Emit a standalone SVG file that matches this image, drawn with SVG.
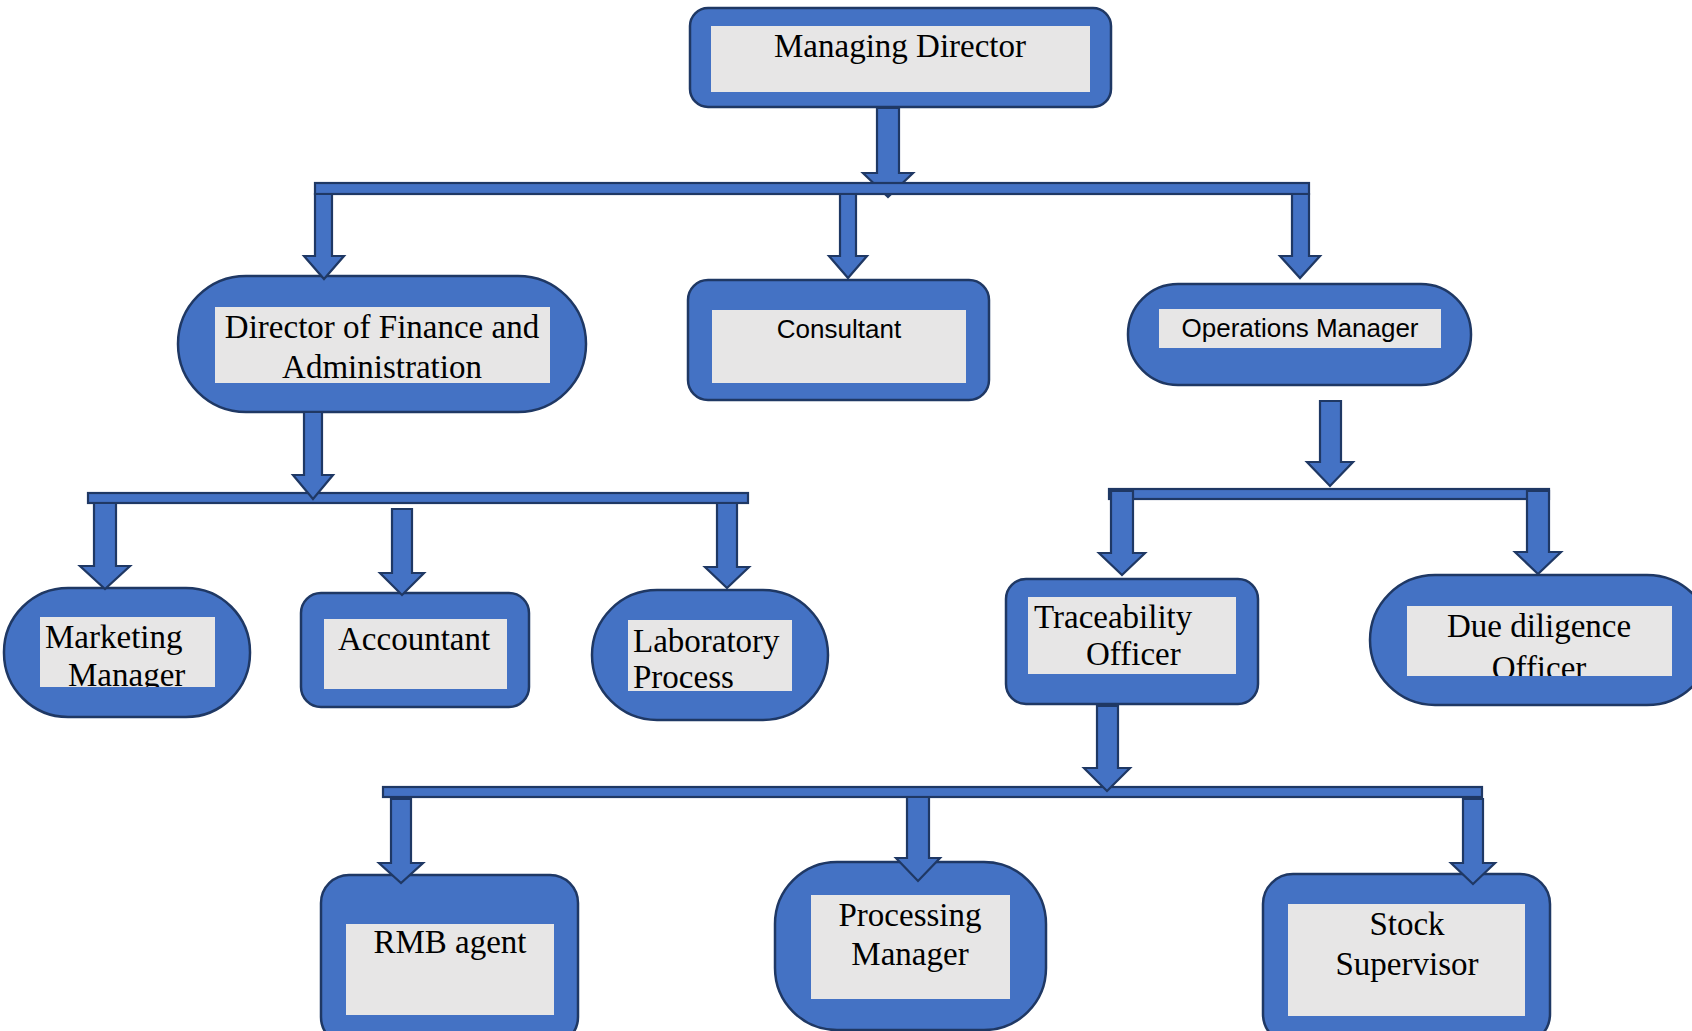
<svg xmlns="http://www.w3.org/2000/svg" width="1692" height="1031" viewBox="0 0 1692 1031">
<style>
.box{fill:#4472C4;stroke:#1F3864;stroke-width:2.5}
.inner{fill:#E7E6E6}
.conn{fill:#4472C4;stroke:#1F3864;stroke-width:2.2;stroke-linejoin:miter}
.serif{font-family:"Liberation Serif","Times New Roman",serif;font-size:33px;fill:#000}
.sans{font-family:"Liberation Sans",Arial,sans-serif;font-size:26px;fill:#000}
.mid{text-anchor:middle}
</style>
<defs>
<clipPath id="cMkt"><rect x="40" y="617" width="175" height="70"/></clipPath>
<clipPath id="cDue"><rect x="1407" y="606" width="265" height="70"/></clipPath>
</defs>
<rect width="1692" height="1031" fill="#fff"/>

<g id="managing-director">
<rect class="box" x="690" y="8" width="421" height="99" rx="18"/>
<rect class="inner" x="711" y="26" width="379" height="66"/>
<text class="serif mid" x="900" y="57">Managing Director</text>
</g>

<g id="director-finance">
<rect class="box" x="178" y="276" width="408" height="136" rx="68"/>
<rect class="inner" x="215" y="307" width="335" height="76"/>
<text class="serif mid" x="382" y="338">Director of Finance and</text>
<text class="serif mid" x="382" y="378">Administration</text>
</g>

<g id="consultant">
<rect class="box" x="688" y="280" width="301" height="120" rx="20"/>
<rect class="inner" x="712" y="310" width="254" height="73"/>
<text class="sans mid" x="839" y="338">Consultant</text>
</g>

<g id="operations-manager">
<rect class="box" x="1128" y="284" width="343" height="101" rx="50"/>
<rect class="inner" x="1159" y="309" width="282" height="39"/>
<text class="sans mid" x="1300" y="337" font-size="26.5">Operations Manager</text>
</g>

<g id="marketing-manager">
<rect class="box" x="4" y="588" width="246" height="129" rx="64"/>
<rect class="inner" x="40" y="617" width="175" height="70"/>
<g clip-path="url(#cMkt)">
<text class="serif" x="45" y="648">Marketing</text>
<text class="serif" x="68" y="686">Manager</text>
</g>
</g>

<g id="accountant">
<rect class="box" x="301" y="593" width="228" height="114" rx="20"/>
<rect class="inner" x="324" y="619" width="183" height="70"/>
<text class="serif" x="338" y="650">Accountant</text>
</g>

<g id="laboratory-process">
<rect class="box" x="592" y="590" width="236" height="130" rx="65"/>
<rect class="inner" x="628" y="620" width="164" height="71"/>
<text class="serif" x="633" y="652">Laboratory</text>
<text class="serif" x="633" y="688">Process</text>
</g>

<g id="traceability-officer">
<rect class="box" x="1006" y="579" width="252" height="125" rx="20"/>
<rect class="inner" x="1028" y="597" width="208" height="77"/>
<text class="serif" x="1034" y="628">Traceability</text>
<text class="serif" x="1086" y="665">Officer</text>
</g>

<g id="due-diligence-officer">
<rect class="box" x="1370" y="575" width="342" height="130" rx="65"/>
<rect class="inner" x="1407" y="606" width="265" height="70"/>
<g clip-path="url(#cDue)">
<text class="serif mid" x="1539" y="637">Due diligence</text>
<text class="serif mid" x="1539" y="679">Officer</text>
</g>
</g>

<g id="rmb-agent">
<rect class="box" x="321" y="875" width="257" height="170" rx="28"/>
<rect class="inner" x="346" y="924" width="208" height="91"/>
<text class="serif mid" x="450" y="953">RMB agent</text>
</g>

<g id="processing-manager">
<rect class="box" x="775" y="862" width="271" height="168" rx="62"/>
<rect class="inner" x="811" y="895" width="199" height="104"/>
<text class="serif mid" x="910" y="926">Processing</text>
<text class="serif mid" x="910" y="965">Manager</text>
</g>

<g id="stock-supervisor">
<rect class="box" x="1263" y="874" width="287" height="170" rx="30"/>
<rect class="inner" x="1288" y="904" width="237" height="112"/>
<text class="serif mid" x="1407" y="935">Stock</text>
<text class="serif mid" x="1407" y="975">Supervisor</text>
</g>

<g id="connectors">
<polygon class="conn" points="877,108 899,108 899,173 913,173 888,197 863,173 877,173"/>
<rect class="conn" x="315" y="183" width="994" height="11"/>
<polygon class="conn" points="315,194 332,194 332,256 344,256 324,279 304,256 315,256"/>
<polygon class="conn" points="840,194 856,194 856,256 867,256 848,278 829,256 840,256"/>
<polygon class="conn" points="1292,194 1309,194 1309,256 1320,256 1300,278 1280,256 1292,256"/>

<rect class="conn" x="88" y="493" width="660" height="10"/>
<polygon class="conn" points="304,412 322,412 322,475 333,475 313,499 293,475 304,475"/>
<polygon class="conn" points="94,503 116,503 116,566 130,566 105,589 80,566 94,566"/>
<polygon class="conn" points="392,509 412,509 412,573 424,573 402,595 380,573 392,573"/>
<polygon class="conn" points="717,503 737,503 737,567 749,567 727,588 705,567 717,567"/>

<polygon class="conn" points="1320,401 1341,401 1341,462 1353,462 1330,486 1307,462 1320,462"/>
<rect class="conn" x="1109" y="489" width="440" height="10"/>
<polygon class="conn" points="1111,491 1133,491 1133,553 1145,553 1122,575 1099,553 1111,553"/>
<polygon class="conn" points="1527,491 1549,491 1549,552 1561,552 1538,574 1515,552 1527,552"/>

<rect class="conn" x="383" y="787" width="1099" height="10"/>
<polygon class="conn" points="1097,706 1118,706 1118,768 1130,768 1107,791 1084,768 1097,768"/>
<polygon class="conn" points="391,799 411,799 411,863 423,863 401,883 379,863 391,863"/>
<polygon class="conn" points="907,797 929,797 929,858 940,858 918,881 896,858 907,858"/>
<polygon class="conn" points="1463,799 1483,799 1483,863 1495,863 1473,884 1451,863 1463,863"/>
</g>
</svg>
